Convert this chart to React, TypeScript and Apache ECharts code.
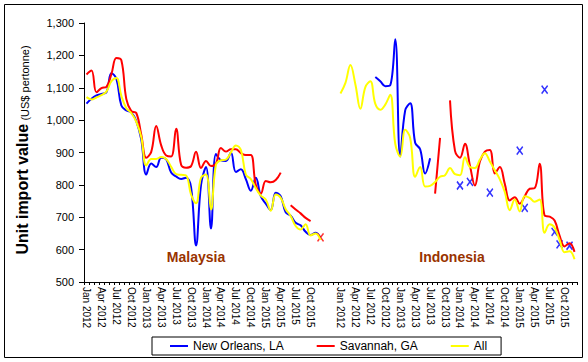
import React, { useEffect, useRef } from 'react';
import * as echarts from 'echarts';

const FONT = '"Liberation Sans", Arial, sans-serif';

const monthNames = ['Jan', 'Feb', 'Mar', 'Apr', 'May', 'Jun', 'Jul', 'Aug', 'Sep', 'Oct', 'Nov', 'Dec'];
const years = [2012, 2013, 2014, 2015];
const monthLabels = years.flatMap((y) => monthNames.map((m) => `${m} ${y}`));
const panels = ['Malaysia', 'Indonesia'];
const gapCategories = ['gap1', 'gap2', 'gap3'];

// Malaysia, Jan 2012 .. Dec 2015 (US$ per tonne)
const newOrleansMY = [
  1051, 1066, 1076, 1081, 1086, 1145, 1128, 1045, 1030, 1024, 997, 940,
  832, 866, 855, 884, 879, 838, 826, 818, 822, 792, 613, 800,
  855, 665, 895, 876, 874, 900, 840, 848, 818, 782, 822, 765,
  742, 722, 776, 765, 715, 705, 683, 675, 655, 645, 652, 636,
];
const savannahMY = [
  1141, 1153, 1086, 1099, 1103, 1142, 1192, 1185, 1065, 1028, 1022, 955,
  884, 902, 982, 922, 891, 888, 973, 862, 853, 858, 902, 852,
  874, 858, 866, 914, 903, 910, 910, 898, 892, 892, 800, 773,
  812, 808, 815, 838, null, 737, 724, 712, 698, 688, null, null,
];
const allMY = [
  1071, 1064, 1070, 1077, 1088, 1120, 1130, 1075, 1037, 1022, 995, 948,
  860, 880, 880, 886, 880, 856, 833, 831, 829, 770, 743, 822,
  832, 724, 862, 876, 878, 900, 922, 908, 832, 818, 790, 767,
  755, 720, 770, 760, 725, 704, 673, 662, 678, 644, 650, 630,
];

// Indonesia, Jan 2012 .. Dec 2015
const newOrleansID = [
  null, null, null, null, null, null, null, 1133, 1120, 1105, 1108, 1250,
  888, 1030, 1052, 930, 910, 835, 882, null, null, null, null, null,
  null, null, null, null, null, null, null, null, null, null, null, null,
  null, null, null, null, null, null, null, null, null, null, null, null,
];
const savannahID = [
  null, null, null, null, null, null, null, null, null, null, null, null,
  null, null, null, null, null, null, null, 773, 945, null, 1061, 905,
  884, 927, 860, 798, 872, 903, 908, 835, 855, 803, 752, 762,
  742, 765, 788, 790, 865, 705, 702, 690, 643, 610, 620, 593,
];
const allID = [
  1082, 1115, 1170, 1110, 1035, 1102, 1120, 1050, 1032, 1048, 1078, 927,
  888, 970, 945, 825, 855, 795, 797, 809, 825, 830, 852, 833,
  830, 885, 855, 852, 878, 898, 872, 845, 817, 778, 722, 755,
  718, 765, 760, 748, 755, 652, 678, 668, 630, 592, 595, 570,
];

// months that only show as single "x" marks
const newOrleansSpotsID: [string, number][] = [
  ['Jan 2014', 798], ['Mar 2014', 809], ['Jul 2014', 776], ['Jan 2015', 906],
  ['Feb 2015', 729], ['Jun 2015', 1094], ['Aug 2015', 655], ['Sep 2015', 616],
  ['Nov 2015', 612],
];
const savannahSpotsMY: [string, number][] = [['Dec 2015', 638]];

const yTicks = { min: 500, max: 1300, step: 100 };

const seriesNames = ['New Orleans, LA', 'Savannah, GA', 'All'];
const seriesColors = ['#0000FF', '#FF0000', '#FFFF00'];

const categories = [
  ...monthLabels.map((l) => `${panels[0]}|${l}`),
  ...gapCategories,
  ...monthLabels.map((l) => `${panels[1]}|${l}`),
];
const gapNulls = gapCategories.map(() => null);
const joinPanels = (a: (number | null)[], b: (number | null)[]) => [...a, ...gapNulls, ...b];

const X_PATH = 'path://M0 0L10 13M10 0L0 13';

export default function App() {
  const ref = useRef<HTMLDivElement>(null);

  useEffect(() => {
    if (!ref.current) return;
    const chart = echarts.init(ref.current, undefined, { renderer: 'svg' });

    const lineData = [
      joinPanels(newOrleansMY, newOrleansID),
      joinPanels(savannahMY, savannahID),
      joinPanels(allMY, allID),
    ];

    const lineSeries = (i: number) => ({
      type: 'line',
      name: seriesNames[i],
      data: lineData[i],
      smooth: 0.4,
      showSymbol: false,
      connectNulls: false,
      lineStyle: { color: seriesColors[i], width: 2 },
      itemStyle: { color: seriesColors[i] },
      z: 2 + i,
    });

    const spotSeries = (name: string, panel: string, spots: [string, number][], color: string, z: number) => ({
      type: 'scatter',
      name,
      data: spots.map(([m, v]) => [`${panel}|${m}`, v]),
      symbol: X_PATH,
      symbolSize: [6, 8],
      itemStyle: { color: 'transparent', borderColor: color, borderWidth: 1.6 },
      z,
    });

    chart.setOption({
      animation: false,
      textStyle: { fontFamily: FONT },
      grid: { left: 84, right: 11, top: 23, bottom: 80, containLabel: false },
      legend: {
        data: seriesNames,
        left: 152,
        top: 337,
        icon: 'rect',
        itemWidth: 18,
        itemHeight: 2,
        itemGap: 33,
        padding: [3, 14, 3, 18],
        borderColor: '#000',
        borderWidth: 1,
        borderRadius: 0,
        textStyle: { fontSize: 12, color: '#000', fontFamily: FONT },
      },
      xAxis: {
        type: 'category',
        data: categories,
        boundaryGap: true,
        axisLine: { show: true, lineStyle: { color: '#000', width: 1 } },
        axisTick: { show: true, interval: 0, length: 3, lineStyle: { color: '#000' } },
        axisLabel: {
          interval: 2,
          rotate: -90,
          fontSize: 10,
          color: '#000',
          margin: 5,
          fontFamily: FONT,
          formatter: (v: string) => (v.includes('|') ? v.split('|')[1] : ''),
        },
        splitLine: { show: false },
      },
      yAxis: {
        type: 'value',
        min: yTicks.min,
        max: yTicks.max,
        interval: yTicks.step,
        axisLine: { show: true, lineStyle: { color: '#000', width: 1 } },
        axisTick: { show: true, length: 5, lineStyle: { color: '#000' } },
        axisLabel: {
          fontSize: 11,
          color: '#000',
          margin: 10,
          fontFamily: FONT,
          formatter: (v: number) => v.toLocaleString('en-US'),
        },
        splitLine: { show: false },
      },
      series: [
        lineSeries(0),
        spotSeries('New Orleans spots', panels[1], newOrleansSpotsID, seriesColors[0], 2),
        lineSeries(1),
        spotSeries('Savannah spots', panels[0], savannahSpotsMY, seriesColors[1], 3),
        lineSeries(2),
      ],
      graphic: [
        {
          type: 'rect',
          shape: { x: 4.5, y: 4.5, width: 578, height: 353 },
          style: { fill: 'none', stroke: '#000', lineWidth: 1 },
          silent: true,
        },
        {
          type: 'text',
          x: 22,
          y: 150,
          rotation: Math.PI / 2,
          style: {
            text: '{b|Unit import value} {s|(US$ pertonne)}',
            align: 'center',
            verticalAlign: 'middle',
            fill: '#000',
            rich: {
              b: { fontSize: 16, fontWeight: 'bold', fontFamily: FONT, fill: '#000', verticalAlign: 'bottom' },
              s: { fontSize: 11, fontFamily: FONT, fill: '#000', verticalAlign: 'bottom' },
            },
          },
        },
        {
          type: 'text',
          x: 196,
          y: 257,
          style: {
            text: panels[0],
            align: 'center',
            verticalAlign: 'middle',
            fill: '#993300',
            font: `bold 14px ${FONT}`,
          },
        },
        {
          type: 'text',
          x: 452,
          y: 257,
          style: {
            text: panels[1],
            align: 'center',
            verticalAlign: 'middle',
            fill: '#993300',
            font: `bold 14px ${FONT}`,
          },
        },
      ],
    });

    return () => chart.dispose();
  }, []);

  return (
    <div
      ref={ref}
      style={{ position: 'absolute', left: 0, top: 0, width: 588, height: 362, background: '#fff' }}
    />
  );
}
